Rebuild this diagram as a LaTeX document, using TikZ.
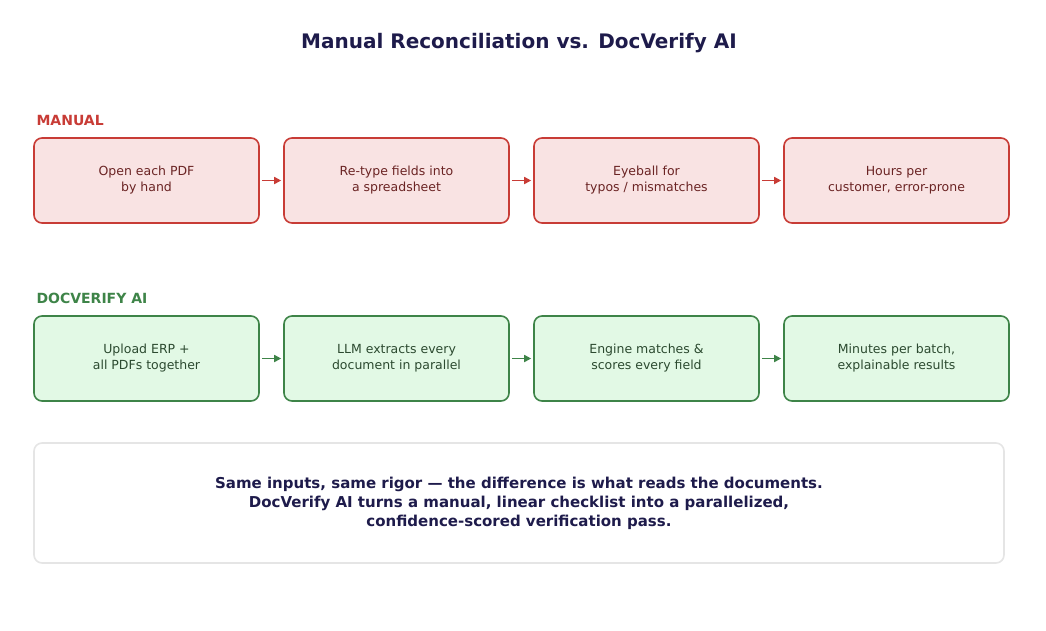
\documentclass[tikz,border=0pt]{standalone}
\usepackage{fontspec}
\setmainfont{DejaVu Sans}
\usetikzlibrary{arrows.meta}
\definecolor{rb}{HTML}{C83C36}\definecolor{rf}{HTML}{F9E3E3}\definecolor{rt}{HTML}{6B2424}
\definecolor{gb}{HTML}{3E8448}\definecolor{gf}{HTML}{E2F9E5}\definecolor{gt}{HTML}{2C4A30}
\definecolor{tt}{HTML}{1E1B4B}
\begin{document}
\begin{tikzpicture}[x=1pt,y=-1pt,
 box/.style={rounded corners=8pt,line width=1.6pt,minimum width=225pt,minimum height=85pt,align=center,font=\fontsize{12.5}{16}\selectfont,inner sep=0pt},
 mbox/.style={box,draw=rb,fill=rf,text=rt},
 dbox/.style={box,draw=gb,fill=gf,text=gt},
 arr/.style={line width=1.6pt,-{Triangle[length=7pt,width=7pt]}},
 lab/.style={anchor=west,font=\bfseries\fontsize{14}{16}\selectfont}]
\useasboundingbox (0,0) rectangle (1046,630);
\node[font=\bfseries\fontsize{20}{24}\selectfont,text=tt] (title) at (519,43) {Manual Reconciliation vs. DocVerify AI};
\node[lab,text=rb] (ml) at (33,120) {MANUAL};
\node[lab,text=gb] (dl) at (33,298) {DOCVERIFY AI};
\node[mbox] (m1) at (146.5,180.5) {Open each PDF\\by hand};
\node[mbox] (m2) at (396.5,180.5) {Re-type fields into\\a spreadsheet};
\node[mbox] (m3) at (646.5,180.5) {Eyeball for\\typos / mismatches};
\node[mbox] (m4) at (896.5,180.5) {Hours per\\customer, error-prone};
\node[dbox] (d1) at (146.5,358.5) {Upload ERP +\\all PDFs together};
\node[dbox] (d2) at (396.5,358.5) {LLM extracts every\\document in parallel};
\node[dbox] (d3) at (646.5,358.5) {Engine matches \&\\scores every field};
\node[dbox] (d4) at (896.5,358.5) {Minutes per batch,\\explainable results};
\foreach \a/\b in {m1/m2,m2/m3,m3/m4}{\draw[arr,rb] ([xshift=2pt]\a.east) -- ([xshift=-2pt]\b.west);}
\foreach \a/\b in {d1/d2,d2/d3,d3/d4}{\draw[arr,gb] ([xshift=2pt]\a.east) -- ([xshift=-2pt]\b.west);}
\node[draw=black!10,line width=1.6pt,rounded corners=8pt,fill=white,minimum width=970pt,minimum height=120pt,align=center,text=tt,font=\bfseries\fontsize{15}{19}\selectfont] (sum) at (519,503)
 {Same inputs, same rigor — the difference is what reads the documents.\\DocVerify AI turns a manual, linear checklist into a parallelized,\\confidence-scored verification pass.};
\end{tikzpicture}
\end{document}
